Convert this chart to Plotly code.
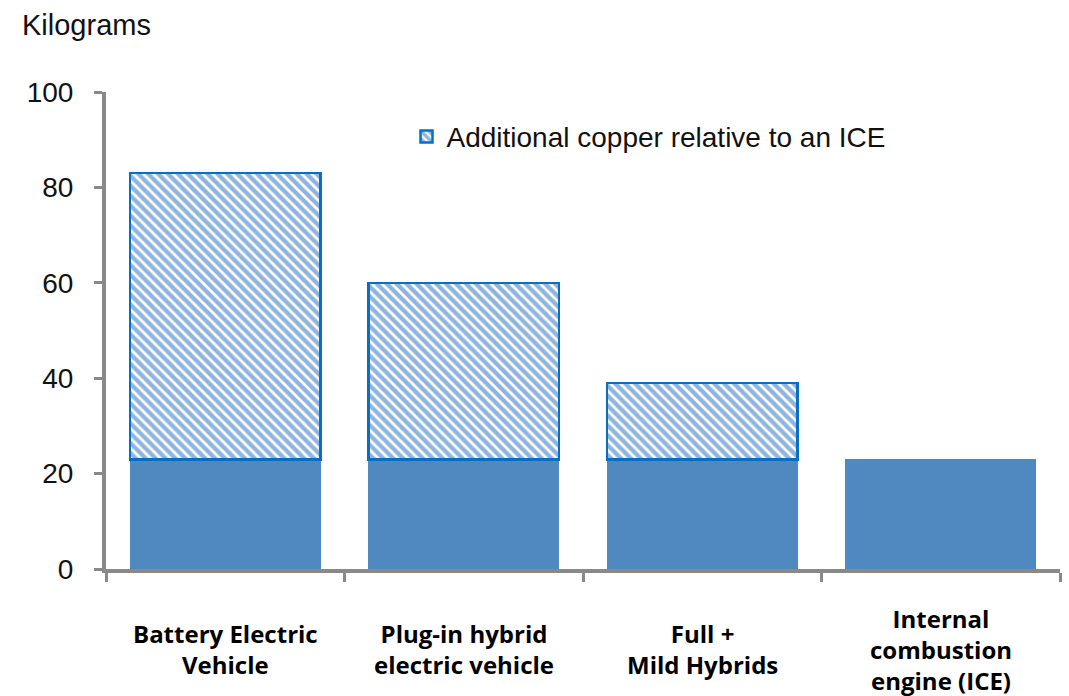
import plotly.graph_objects as go

# Copper content per vehicle type (kg)
categories = [
    "Battery Electric<br>Vehicle",
    "Plug-in hybrid<br>electric vehicle",
    "Full +<br>Mild Hybrids",
    "Internal<br>combustion<br>engine (ICE)",
]
total_copper = [83, 60, 39, 23]
ice_baseline = [23, 23, 23, 23]
additional = [t - b if t - b > 0 else None for t, b in zip(total_copper, ice_baseline)]

y_ticks = [0, 20, 40, 60, 80, 100]

SOLID = "#4F89BF"
EDGE = "#0A6FC1"
AXIS = "#898989"
TEXT_FONT = "Liberation Sans, Arial, sans-serif"

fig = go.Figure()

fig.add_trace(go.Bar(
    x=categories,
    y=ice_baseline,
    marker=dict(color=SOLID, line=dict(width=0)),
    showlegend=False,
    hoverinfo="skip",
))

fig.add_trace(go.Bar(
    x=categories,
    y=additional,
    name="Additional copper relative to an ICE",
    marker=dict(
        color="white",
        line=dict(color=EDGE, width=2.5),
        pattern=dict(shape="\\", fgcolor="#1F6CBE", bgcolor="white",
                     size=7, solidity=0.62, fillmode="overlay"),
    ),
    showlegend=True,
))

# Category labels, each block vertically centred under its bar
for cat in categories:
    fig.add_annotation(
        x=cat, xref="x", y=-0.168, yref="paper",
        text=cat, showarrow=False,
        xanchor="center", yanchor="middle", align="center",
        font=dict(family="Open Sans, sans-serif", size=24, color="#000000", weight="bold"),
    )

fig.add_annotation(
    x=-0.09, xref="paper", y=1.14, yref="paper",
    text="Kilograms", showarrow=False,
    xanchor="left", yanchor="middle",
    font=dict(family=TEXT_FONT, size=29, color="#111111"),
)

fig.update_layout(
    width=1069, height=696,
    margin=dict(l=106, r=9, t=92, b=127),
    paper_bgcolor="white",
    plot_bgcolor="white",
    barmode="stack",
    bargap=0.2,
    font=dict(family=TEXT_FONT, size=28, color="#111111"),
    legend=dict(
        x=0.315, y=0.906, xanchor="left", yanchor="middle",
        bgcolor="rgba(0,0,0,0)",
        font=dict(family=TEXT_FONT, size=28, color="#111111"),
    ),
    xaxis=dict(
        type="category",
        tickson="boundaries",
        showticklabels=False,
        ticks="outside", ticklen=9, tickwidth=3, tickcolor=AXIS,
        showline=True, linecolor=AXIS, linewidth=4,
        showgrid=False, zeroline=False,
    ),
    yaxis=dict(
        range=[0, 100],
        tickvals=y_ticks,
        ticks="outside", ticklen=8, tickwidth=3, tickcolor=AXIS,
        showline=True, linecolor=AXIS, linewidth=4,
        showgrid=False, zeroline=False,
        ticklabelstandoff=15,
        tickfont=dict(family=TEXT_FONT, size=28, color="#111111"),
    ),
)

fig.write_html("out.html")
